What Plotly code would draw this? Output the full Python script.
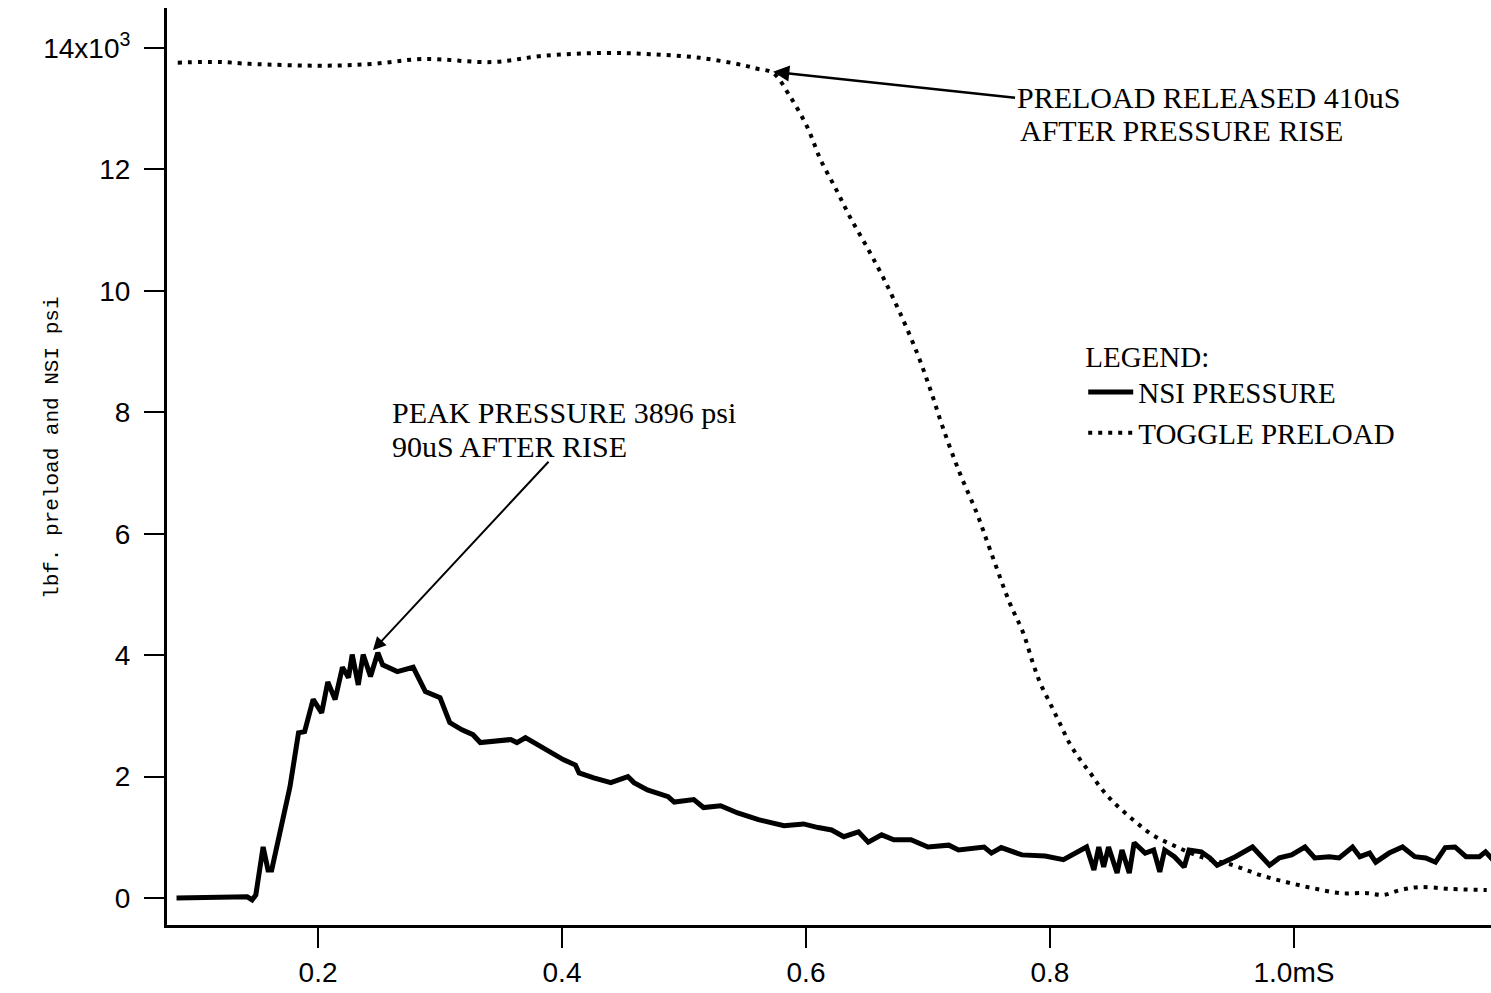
import plotly.graph_objects as go

# NSI pressure trace (x in mS, y in thousands psi)
nsi_time = [
    0.084, 0.142, 0.146, 0.149, 0.155, 0.159, 0.162, 0.167, 0.177, 0.184,
    0.189, 0.196, 0.203, 0.208, 0.214, 0.220, 0.225, 0.228, 0.233, 0.237,
    0.243, 0.249, 0.253, 0.265, 0.278, 0.288, 0.300, 0.308, 0.318, 0.327,
    0.333, 0.358, 0.363, 0.370, 0.380, 0.391, 0.401, 0.411, 0.414, 0.426,
    0.440, 0.454, 0.459, 0.470, 0.487, 0.492, 0.508, 0.516, 0.530, 0.544,
    0.561, 0.582, 0.598, 0.610, 0.621, 0.631, 0.643, 0.651, 0.662, 0.672,
    0.686, 0.700, 0.717, 0.725, 0.746, 0.752, 0.760, 0.777, 0.796, 0.811,
    0.823, 0.830, 0.836, 0.840, 0.844, 0.848, 0.855, 0.859, 0.865, 0.869,
    0.878, 0.885, 0.890, 0.894, 0.902, 0.910, 0.914, 0.924, 0.931, 0.937,
    0.952, 0.966, 0.980, 0.988, 0.998, 1.009, 1.017, 1.029, 1.037, 1.048,
    1.054, 1.062, 1.067, 1.078, 1.089, 1.099, 1.108, 1.116, 1.124, 1.132,
    1.141, 1.152, 1.157, 1.163,
]
nsi_pressure = [
    0.00, 0.02, -0.03, 0.05, 0.84, 0.46, 0.46, 0.91, 1.83, 2.72,
    2.74, 3.27, 3.05, 3.56, 3.27, 3.80, 3.63, 4.01, 3.51, 4.01,
    3.65, 4.04, 3.84, 3.73, 3.80, 3.40, 3.30, 2.89, 2.77, 2.69,
    2.56, 2.61, 2.56, 2.64, 2.52, 2.41, 2.28, 2.19, 2.06, 1.98,
    1.90, 2.00, 1.90, 1.78, 1.67, 1.58, 1.62, 1.49, 1.52, 1.40,
    1.29, 1.19, 1.22, 1.16, 1.12, 1.01, 1.09, 0.92, 1.04, 0.96,
    0.96, 0.84, 0.87, 0.79, 0.84, 0.74, 0.83, 0.71, 0.69, 0.63,
    0.76, 0.84, 0.46, 0.84, 0.51, 0.84, 0.41, 0.79, 0.41, 0.91,
    0.74, 0.79, 0.43, 0.79, 0.68, 0.51, 0.79, 0.76, 0.66, 0.54,
    0.68, 0.84, 0.54, 0.66, 0.71, 0.84, 0.66, 0.68, 0.66, 0.84,
    0.68, 0.74, 0.59, 0.74, 0.84, 0.68, 0.66, 0.59, 0.83, 0.84,
    0.68, 0.68, 0.76, 0.63,
]

# toggle preload trace (x in mS, y in thousands lbf)
preload_time = [
    0.085, 0.120, 0.144, 0.207, 0.245, 0.286, 0.343, 0.384, 0.434, 0.472,
    0.513, 0.548, 0.560, 0.573, 0.587, 0.601, 0.612, 0.625, 0.636, 0.650,
    0.663, 0.677, 0.691, 0.702, 0.712, 0.726, 0.740, 0.751, 0.767, 0.778,
    0.786, 0.792, 0.800, 0.808, 0.816, 0.825, 0.833, 0.841, 0.852, 0.868,
    0.884, 0.904, 0.923, 0.950, 0.972, 0.994, 1.016, 1.038, 1.060, 1.073,
    1.087, 1.103, 1.128, 1.158,
]
preload_force = [
    13.76, 13.77, 13.74, 13.71, 13.74, 13.82, 13.77, 13.87, 13.92, 13.90,
    13.84, 13.72, 13.66, 13.59, 13.20, 12.70, 12.16, 11.66, 11.22, 10.72,
    10.23, 9.64, 8.98, 8.37, 7.76, 7.00, 6.34, 5.73, 4.86, 4.37,
    3.87, 3.54, 3.21, 2.88, 2.55, 2.27, 2.06, 1.83, 1.58, 1.29,
    1.04, 0.84, 0.68, 0.54, 0.38, 0.26, 0.16, 0.08, 0.08, 0.05,
    0.13, 0.18, 0.15, 0.13,
]

y_ticks = [0, 2, 4, 6, 8, 10, 12, 14]
y_tick_text = ["0", "2", "4", "6", "8", "10", "12", "14x10<sup>3</sup>"]
x_ticks = [0.2, 0.4, 0.6, 0.8, 1.0]
x_tick_text = ["0.2", "0.4", "0.6", "0.8", "1.0mS"]

serif = "Liberation Serif"
sans = "Liberation Sans"
note_font = dict(family=serif, size=30, color="black")

fig = go.Figure()

fig.add_trace(
    go.Scatter(
        x=nsi_time,
        y=nsi_pressure,
        mode="lines",
        line=dict(color="black", width=5),
        name="NSI PRESSURE",
    )
)

fig.add_trace(
    go.Scatter(
        x=preload_time,
        y=preload_force,
        mode="lines",
        line=dict(color="black", width=4, dash="4px,6px", shape="spline"),
        name="TOGGLE PRELOAD",
    )
)

# peak pressure note
fig.add_annotation(
    x=0.245, y=4.08, text="", showarrow=True,
    arrowhead=2, arrowsize=1.3, arrowwidth=2, arrowcolor="black",
    ax=177, ay=-190,
)
fig.add_annotation(
    x=0.259, y=7.99, xanchor="left", yanchor="middle",
    text="PEAK PRESSURE 3896 psi", showarrow=False, font=note_font,
)
fig.add_annotation(
    x=0.259, y=7.43, xanchor="left", yanchor="middle",
    text="90uS AFTER RISE", showarrow=False, font=note_font,
)

# preload release note, arrow drawn from the first line
fig.add_annotation(
    x=0.573, y=13.61, xanchor="left", yanchor="middle",
    text="PRELOAD RELEASED 410uS", font=note_font,
    showarrow=True, arrowhead=2, arrowsize=1.3, arrowwidth=2.5,
    arrowcolor="black", ax=242, ay=26,
)
fig.add_annotation(
    x=0.774, y=12.65, xanchor="left", yanchor="middle",
    text="AFTER PRESSURE RISE", showarrow=False, font=note_font,
)

# y axis label
fig.add_annotation(
    xref="paper", yref="paper", x=-0.087, y=0.52,
    xanchor="center", yanchor="middle",
    text="lbf. preload and NSI psi", textangle=-90, showarrow=False,
    font=dict(family="Liberation Mono", size=21, color="black"),
)

fig.update_layout(
    width=1491,
    height=993,
    margin=dict(l=167, r=0, t=8, b=68),
    plot_bgcolor="white",
    paper_bgcolor="white",
    legend=dict(
        x=0.692, y=0.65, xanchor="left", yanchor="top",
        title=dict(text="LEGEND:", font=dict(family=serif, size=29, color="black")),
        font=dict(family=serif, size=29, color="black"),
        bgcolor="rgba(0,0,0,0)",
        tracegroupgap=0,
        itemwidth=45,
    ),
    xaxis=dict(
        range=[0.0762, 1.1615],
        tickvals=x_ticks, ticktext=x_tick_text,
        showline=True, linecolor="black", linewidth=3,
        ticks="outside", ticklen=20, tickwidth=2, tickcolor="black",
        showgrid=False, zeroline=False,
        tickfont=dict(family=sans, size=28, color="black"),
    ),
    yaxis=dict(
        range=[-0.445, 14.66],
        tickvals=y_ticks, ticktext=y_tick_text,
        showline=True, linecolor="black", linewidth=3,
        ticks="outside", ticklen=20, tickwidth=2, tickcolor="black",
        showgrid=False, zeroline=False,
        ticklabelstandoff=8,
        tickfont=dict(family=sans, size=28, color="black"),
    ),
)

fig.write_html(
    "out.html",
    config={"displayModeBar": False},
    post_script="document.body.style.margin='0';",
)
